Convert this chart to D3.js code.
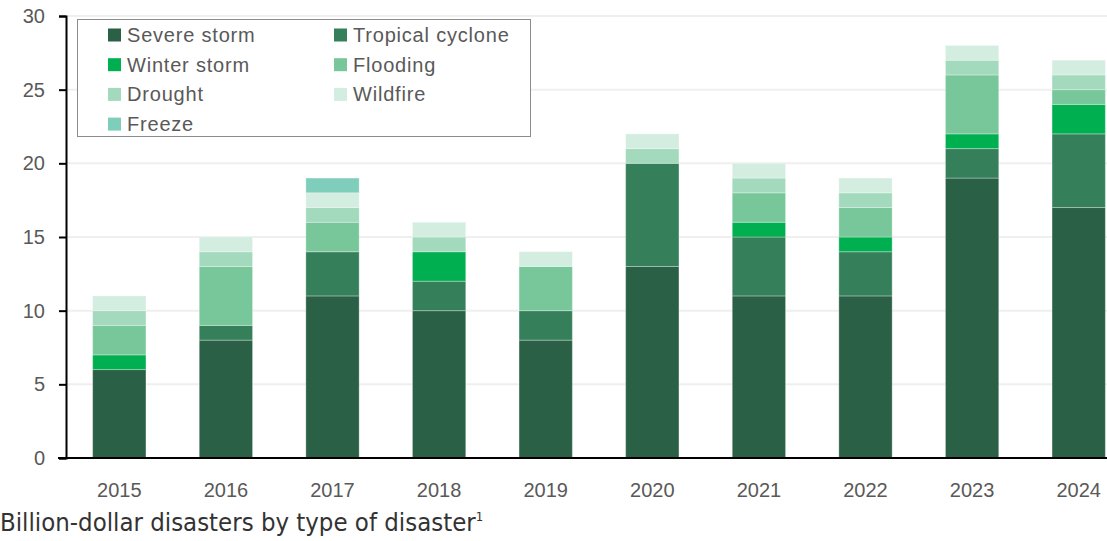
<!DOCTYPE html>
<html>
<head>
<meta charset="utf-8">
<script src="https://cdn.jsdelivr.net/npm/d3@7"></script>
<style>
  body { margin: 0; background: #fff; }
  svg { display: block; }
  .tick-label { font-family: "Liberation Sans", Arial, sans-serif; font-size: 20px; fill: #595959; }
  .legend-label { font-family: "Liberation Sans", Arial, sans-serif; font-size: 20px; fill: #595959; letter-spacing: 0.8px; }
  .title { font-family: "Liberation Sans Narrow", "DejaVu Sans Condensed", sans-serif; font-size: 25.5px; fill: #333; }
</style>
</head>
<body>
<div id="chart"></div>
<script>
// Categories (years) and series
const years = ['2015', '2016', '2017', '2018', '2019', '2020', '2021', '2022', '2023', '2024'];
const seriesNames = ['Severe storm', 'Tropical cyclone', 'Winter storm', 'Flooding', 'Drought', 'Wildfire', 'Freeze'];

// Counts per year, one array per disaster type
const severeStorm     = [6, 8, 11, 10, 8, 13, 11, 11, 19, 17];
const tropicalCyclone = [0, 1, 3, 2, 2, 7, 4, 3, 2, 5];
const winterStorm     = [1, 0, 0, 2, 0, 0, 1, 1, 1, 2];
const flooding        = [2, 4, 2, 0, 3, 0, 2, 2, 4, 1];
const drought         = [1, 1, 1, 1, 0, 1, 1, 1, 1, 1];
const wildfire        = [1, 1, 1, 1, 1, 1, 1, 1, 1, 1];
const freeze          = [0, 0, 1, 0, 0, 0, 0, 0, 0, 0];

const yTicks = [0, 5, 10, 15, 20, 25, 30];

// Colours by series
const colors = ['#2a6045', '#35805a', '#00b050', '#77c79b', '#a3d9bd', '#d3ede0', '#7fcdbb'];

const width = 1107;
const height = 541;
const margin = { top: 16, left: 66, bottom: 83 };

// Build rows for d3.stack
const allSeries = [severeStorm, tropicalCyclone, winterStorm, flooding, drought, wildfire, freeze];
const rows = years.map((y, i) => {
	const row = { year: y };
	seriesNames.forEach((name, j) => { row[name] = allSeries[j][i]; });
	return row;
});

const stacked = d3.stack().keys(seriesNames)(rows);

const xScale = d3.scaleBand()
	.domain(years)
	.range([margin.left, margin.left + 1066])
	.paddingInner(0.5)
	.paddingOuter(0.25);

const yScale = d3.scaleLinear()
	.domain([0, 30])
	.range([height - margin.bottom, margin.top]);

const svg = d3.select('#chart')
	.append('svg')
	.attr('width', width)
	.attr('height', height);

// Gridlines
svg.append('g')
	.selectAll('line')
	.data(yTicks.slice(1))
	.enter()
	.append('line')
	.attr('x1', margin.left)
	.attr('x2', width)
	.attr('y1', d => yScale(d))
	.attr('y2', d => yScale(d))
	.attr('stroke', '#efefef')
	.attr('stroke-width', 2);

// Bars
const groups = svg.append('g')
	.selectAll('g')
	.data(stacked)
	.enter()
	.append('g')
	.attr('fill', (d, i) => colors[i]);

groups.selectAll('rect')
	.data(d => d.filter(el => el[1] > el[0]))
	.enter()
	.append('rect')
	.attr('x', d => xScale(d.data.year))
	.attr('y', d => yScale(d[1]))
	.attr('width', xScale.bandwidth())
	.attr('height', d => yScale(d[0]) - yScale(d[1]))
	.attr('stroke', 'rgba(255,255,255,0.3)')
	.attr('stroke-width', 1);

// Y axis
const yAxis = d3.axisLeft(yScale)
	.tickValues(yTicks)
	.tickSize(7)
	.tickPadding(14);

const yAxisG = svg.append('g')
	.attr('transform', `translate(${margin.left},0)`)
	.call(yAxis);
yAxisG.select('.domain').attr('stroke', '#000').attr('stroke-width', 2);
yAxisG.selectAll('.tick line').attr('stroke', '#000').attr('stroke-width', 2);
yAxisG.selectAll('.tick text').attr('class', 'tick-label').attr('font-size', null).attr('font-family', null);

// X axis
const xAxis = d3.axisBottom(xScale).tickSize(0).tickPadding(25);
const xAxisG = svg.append('g')
	.attr('transform', `translate(0,${yScale(0)})`)
	.call(xAxis);
xAxisG.select('.domain').attr('d', `M${margin.left - 8},0H${width}`).attr('stroke', '#000').attr('stroke-width', 2);
xAxisG.selectAll('.tick text').attr('class', 'tick-label').attr('font-size', null).attr('font-family', null);

// Legend
const legend = svg.append('g');
legend.append('rect')
	.attr('x', 77.5)
	.attr('y', 19.5)
	.attr('width', 453)
	.attr('height', 117)
	.attr('fill', '#fff')
	.attr('stroke', '#8c8c8c')
	.attr('stroke-width', 1);

const items = legend.selectAll('g.item')
	.data(seriesNames)
	.enter()
	.append('g')
	.attr('class', 'item')
	.attr('transform', (d, i) => `translate(${i % 2 === 0 ? 108 : 334},${35 + Math.floor(i / 2) * 29.7})`);

items.append('rect')
	.attr('x', 0)
	.attr('y', -6.5)
	.attr('width', 13)
	.attr('height', 13)
	.attr('fill', (d, i) => colors[i]);

items.append('text')
	.attr('class', 'legend-label')
	.attr('x', 19)
	.attr('dy', '0.35em')
	.text(d => d);

// Title
const title = svg.append('text')
	.attr('class', 'title')
	.attr('x', 0)
	.attr('y', 531);
title.append('tspan').text('Billion-dollar disasters by type of disaster');
title.append('tspan').attr('font-size', '13px').attr('dy', -10).text('1');
</script>
</body>
</html>
